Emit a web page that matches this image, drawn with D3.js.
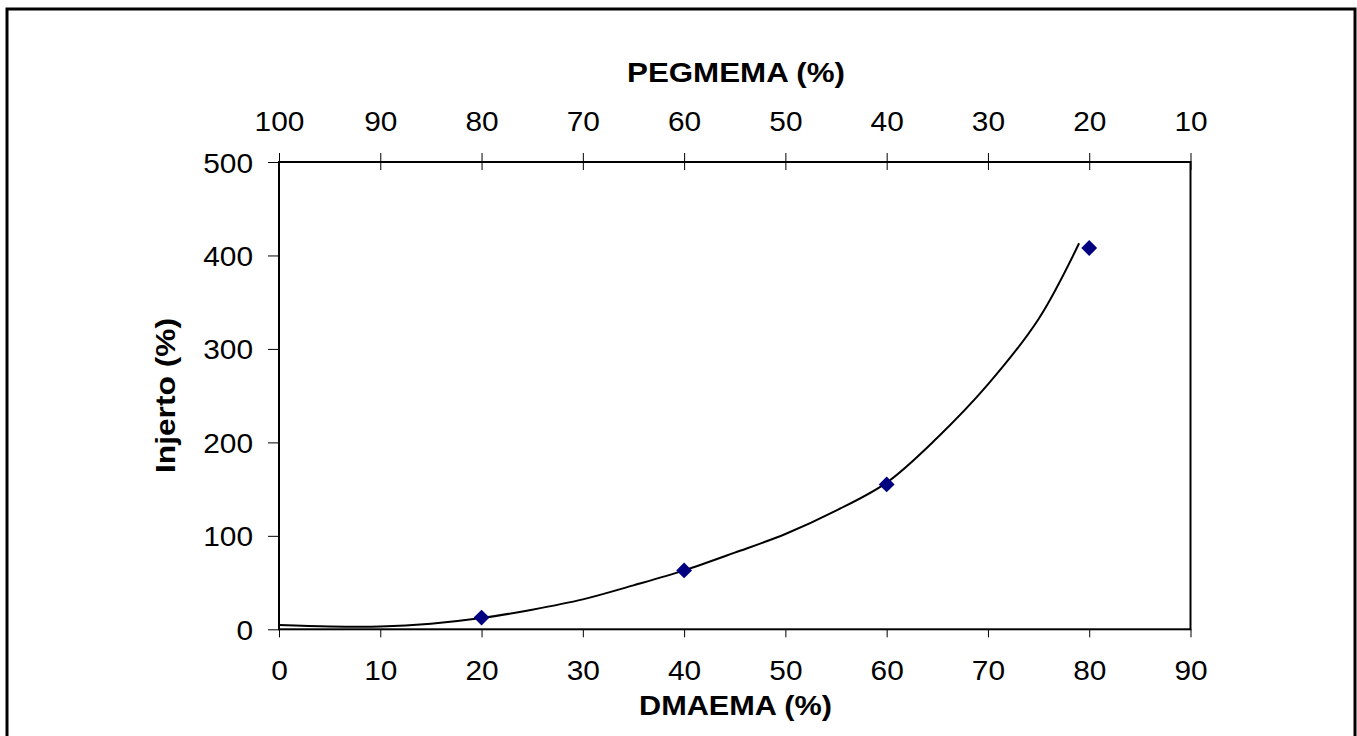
<!DOCTYPE html>
<html>
<head>
<meta charset="utf-8">
<script src="https://cdn.jsdelivr.net/npm/d3@7"></script>
<style>
  html, body { margin: 0; padding: 0; background: #fff; }
  svg { display: block; }
  text { font-family: "Liberation Sans", Arial, sans-serif; fill: #000; }
</style>
</head>
<body>
<svg id="chart" width="1357" height="736"></svg>
<script>
// Measured grafting vs DMAEMA content
const dmaema = [20, 40, 60, 80];
const injerto = [12.5, 63, 155, 408];

// Smoothed trend curve through the data
const trendX = [0, 5, 10, 15, 20, 25, 30, 35, 40, 45, 50, 55, 60, 65, 70, 75, 79];
const trendY = [4.5, 3, 3, 6, 12, 21, 32, 47, 63, 82, 102, 127, 157, 205, 262, 332, 413];

// Axis ticks
const bottomTicks = [0, 10, 20, 30, 40, 50, 60, 70, 80, 90];
const topTicks = [100, 90, 80, 70, 60, 50, 40, 30, 20, 10];
const yTicks = [0, 100, 200, 300, 400, 500];

const svg = d3.select("#chart");
const plotLeft = 279, plotRight = 1190.5, plotTop = 162, plotBottom = 629.3;
const digitWidth = 16.6;

const x = d3.scaleLinear().domain([0, 90]).range([plotLeft, plotRight]);
const xTop = d3.scaleLinear().domain([100, 10]).range([plotLeft, plotRight]);
const y = d3.scaleLinear().domain([0, 500]).range([plotBottom, plotTop]);

// Outer frame
svg.append("rect")
  .attr("x", 7).attr("y", 9)
  .attr("width", 1348).attr("height", 740)
  .attr("fill", "none").attr("stroke", "#000").attr("stroke-width", 3);

// Plot frame
svg.append("rect")
  .attr("x", plotLeft).attr("y", plotTop)
  .attr("width", plotRight - plotLeft).attr("height", plotBottom - plotTop)
  .attr("fill", "none").attr("stroke", "#000").attr("stroke-width", 2);

function styleAxis(g) {
  g.select(".domain").remove();
  g.selectAll(".tick line").attr("stroke", "#000").attr("stroke-width", 1);
  g.selectAll(".tick text")
    .style("font-family", "'Liberation Sans', Arial, sans-serif")
    .style("font-size", "28px").attr("fill", "#000")
    .attr("dy", null)
    .attr("textLength", d => String(d).length * digitWidth)
    .attr("lengthAdjust", "spacingAndGlyphs");
}

// Bottom axis
const gB = svg.append("g").attr("transform", `translate(0,${plotBottom})`)
  .call(d3.axisBottom(x).tickValues(bottomTicks).tickSize(8).tickFormat(d3.format("d")));
styleAxis(gB);
gB.selectAll(".tick text").attr("y", 50.7);

// Left axis
const gL = svg.append("g").attr("transform", `translate(${plotLeft},0)`)
  .call(d3.axisLeft(y).tickValues(yTicks).tickSize(11).tickFormat(d3.format("d")));
styleAxis(gL);
gL.selectAll(".tick text").attr("x", -26).attr("y", 10);

// Top axis (PEGMEMA, reversed), ticks cross the frame
const gT = svg.append("g").attr("transform", `translate(0,${plotTop})`)
  .call(d3.axisTop(xTop).tickValues(topTicks).tickSize(9).tickFormat(d3.format("d")));
styleAxis(gT);
gT.selectAll(".tick line").attr("y1", 8).attr("y2", -9);
gT.selectAll(".tick text").attr("y", -31.3);

// Trend curve
const line = d3.line()
  .x(d => x(d[0])).y(d => y(d[1]))
  .curve(d3.curveCatmullRom.alpha(0.5));
svg.append("path")
  .datum(trendX.map((v, i) => [v, trendY[i]]))
  .attr("d", line)
  .attr("fill", "none").attr("stroke", "#000").attr("stroke-width", 2);

// Data markers (diamonds)
const diamond = d3.symbol().type(d3.symbolDiamond2).size(160);
svg.append("g").selectAll("path")
  .data(dmaema.map((v, i) => [v, injerto[i]]))
  .join("path")
  .attr("transform", d => `translate(${x(d[0])},${y(d[1])})`)
  .attr("d", diamond)
  .attr("fill", "#000080");

// Axis titles
svg.append("text")
  .attr("x", 736).attr("y", 81.7)
  .attr("text-anchor", "middle")
  .attr("textLength", 218).attr("lengthAdjust", "spacingAndGlyphs")
  .style("font-size", "28px").style("font-weight", "bold")
  .text("PEGMEMA (%)");

svg.append("text")
  .attr("x", 735.5).attr("y", 715)
  .attr("text-anchor", "middle")
  .attr("textLength", 193).attr("lengthAdjust", "spacingAndGlyphs")
  .style("font-size", "28px").style("font-weight", "bold")
  .text("DMAEMA (%)");

svg.append("text")
  .attr("transform", `translate(175,395.5) rotate(-90)`)
  .attr("text-anchor", "middle")
  .attr("textLength", 155).attr("lengthAdjust", "spacingAndGlyphs")
  .style("font-size", "28px").style("font-weight", "bold")
  .text("Injerto (%)");
</script>
</body>
</html>
